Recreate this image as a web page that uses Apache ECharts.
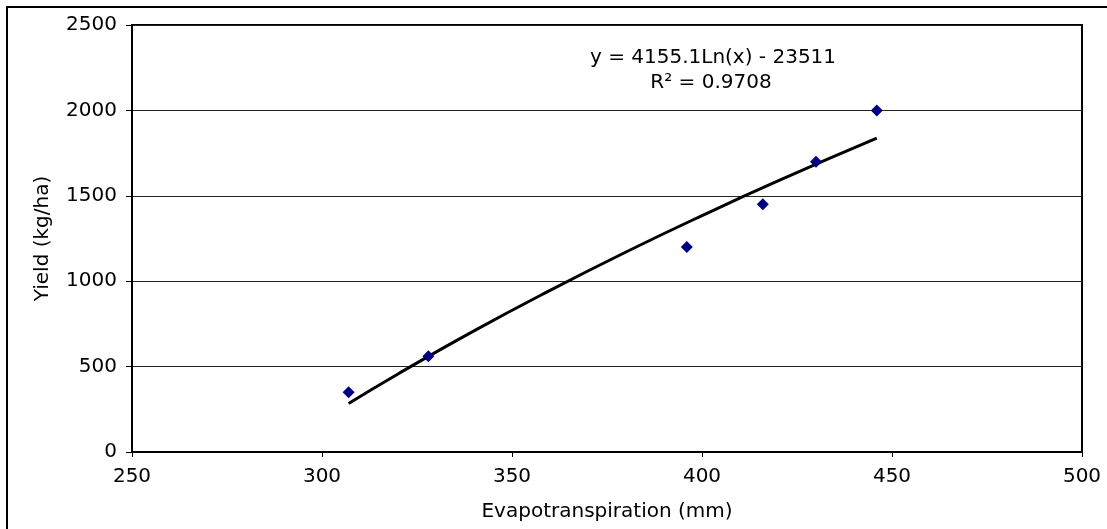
<!DOCTYPE html>
<html>
<head>
<meta charset="utf-8">
<script src="https://cdn.jsdelivr.net/npm/echarts@6/dist/echarts.min.js"></script>
<style>
html,body{margin:0;padding:0;background:#fff;}
#c{width:1107px;height:529px;}
</style>
</head>
<body>
<div id="c"></div>
<script>
var etValues = [307, 328, 396, 416, 430, 446];
var yieldValues = [350, 560, 1200, 1450, 1700, 2000];
// Trendline points
var trendX = [307, 320, 340, 360, 380, 400, 420, 446];
var trendY = [284, 457, 709, 946, 1171, 1384, 1587, 1837];
var equationText = 'y = 4155.1Ln(x) - 23511';
var r2Text = 'R\u00B2 = 0.9708';

var font = '"DejaVu Sans", Verdana, sans-serif';
var points = etValues.map(function (x, i) { return [x, yieldValues[i]]; });
var trend = trendX.map(function (x, i) { return [x, trendY[i]]; });

var chart = echarts.init(document.getElementById('c'), null, {renderer: 'canvas'});
chart.setOption({
  backgroundColor: '#fff',
  animation: false,
  grid: {left: 132, right: 25, top: 25, bottom: 77, show: true, borderColor: '#000', borderWidth: 2, backgroundColor: '#fff'},
  xAxis: {
    type: 'value', min: 250, max: 500, interval: 50,
    name: 'Evapotranspiration (mm)', nameLocation: 'middle', nameGap: 50,
    nameTextStyle: {fontFamily: font, fontSize: 20, color: '#000'},
    axisLine: {show: true, lineStyle: {color: '#000', width: 2}},
    axisTick: {show: true, inside: false, length: 5, lineStyle: {color: '#000', width: 1}},
    axisLabel: {fontFamily: font, fontSize: 20, color: '#000', margin: 15, formatter: function (v) { return String(v); }},
    splitLine: {show: false}
  },
  yAxis: {
    type: 'value', min: 0, max: 2500, interval: 500,
    name: 'Yield (kg/ha)', nameLocation: 'middle', nameGap: 79,
    nameTextStyle: {fontFamily: font, fontSize: 20, color: '#000'},
    axisLine: {show: true, lineStyle: {color: '#000', width: 2}},
    axisTick: {show: true, inside: false, length: 6, lineStyle: {color: '#000', width: 1}},
    axisLabel: {fontFamily: font, fontSize: 20, color: '#000', margin: 15, formatter: function (v) { return String(v); }},
    splitLine: {show: true, lineStyle: {color: '#222', width: 1}}
  },
  series: [
    {
      type: 'line', data: trend, smooth: true, showSymbol: false, symbol: 'none',
      lineStyle: {color: '#000', width: 3}, z: 2
    },
    {
      type: 'scatter', data: points, symbol: 'diamond', symbolSize: 12,
      itemStyle: {color: '#000080', opacity: 1}, z: 3
    }
  ],
  graphic: [
    {type: 'rect', shape: {x: 7, y: 7, width: 1200, height: 600}, style: {fill: 'none', stroke: '#000', lineWidth: 2}, silent: true, z: 100},
    {type: 'text', x: 713, y: 58, style: {text: equationText, font: '20px ' + font, fill: '#000', align: 'center', verticalAlign: 'middle'}, z: 100},
    {type: 'text', x: 711, y: 83, style: {text: r2Text, font: '20px ' + font, fill: '#000', align: 'center', verticalAlign: 'middle'}, z: 100}
  ]
});
</script>
</body>
</html>
